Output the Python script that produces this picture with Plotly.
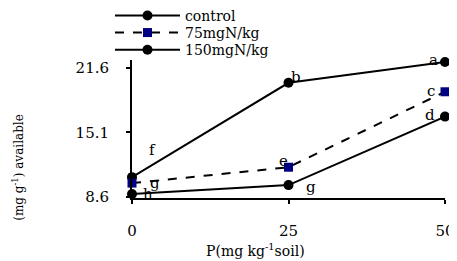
import plotly.graph_objects as go

p_levels = [0, 25, 50]
series_names = ["control", "75mgN/kg", "150mgN/kg"]
control = [10.6, 20.1, 22.2]
n75 = [10.0, 11.6, 19.2]
n150 = [8.9, 9.8, 16.7]
letters_control = ["f", "b", "a"]
letters_n75 = ["g", "e", "c"]
letters_n150 = ["h", "g", "d"]
y_ticks = [8.6, 15.1, 21.6]
x_ticks = [0, 25, 50]

FONT = "DejaVu Serif"

fig = go.Figure()
fig.add_trace(go.Scatter(x=p_levels, y=control, name=series_names[0], mode="lines+markers",
                         line=dict(color="black", width=2), legend="legend",
                         marker=dict(symbol="circle", size=10, color="black"), cliponaxis=False))
fig.add_trace(go.Scatter(x=p_levels, y=n75, name=series_names[1], mode="lines+markers",
                         line=dict(color="black", width=2, dash="dash"), legend="legend2",
                         marker=dict(symbol="square", size=9, color="#000080"), cliponaxis=False))
fig.add_trace(go.Scatter(x=p_levels, y=n150, name=series_names[2], mode="lines+markers",
                         line=dict(color="black", width=2), legend="legend3",
                         marker=dict(symbol="circle", size=10, color="black"), cliponaxis=False))

# letter annotations (offsets in px)
offs_control = [(20, 27), (7, 6), (-12, 2)]
offs_n75 = [(23, 0), (-5, 6), (-14, 1)]
offs_n150 = [(16, 0), (22, -2), (-15, 2)]
for vals, letters, offs in [(control, letters_control, offs_control),
                            (n75, letters_n75, offs_n75),
                            (n150, letters_n150, offs_n150)]:
    for x, y, t, (dx, dy) in zip(p_levels, vals, letters, offs):
        fig.add_annotation(x=x, y=y, text=t, showarrow=False, xshift=dx, yshift=dy,
                           font=dict(family=FONT, size=15, color="black"))

fig.add_annotation(xref="paper", yref="paper", x=0.396, y=-0.377,
                   xanchor="center", yanchor="middle",
                   text="P(mg kg<sup>-1</sup>soil)", showarrow=False,
                   font=dict(family=FONT, size=14, color="black"))
fig.add_annotation(xref="paper", yref="paper", x=-0.364, y=0.22, textangle=-90,
                   xanchor="center", yanchor="middle",
                   text="(mg g<sup>-1</sup>) available", showarrow=False,
                   font=dict(family=FONT, size=12, color="black"))

leg_common = dict(xref="paper", yref="paper", x=-0.0703, xanchor="left", yanchor="middle",
                  itemwidth=65, font=dict(family=FONT, size=14, color="black"),
                  bgcolor="rgba(0,0,0,0)", borderwidth=0)

fig.update_layout(
    width=449, height=253,
    margin=dict(l=124, r=12, t=52, b=63, autoexpand=False),
    paper_bgcolor="white", plot_bgcolor="white",
    font=dict(family=FONT, size=14, color="black"),
    showlegend=True,
    legend=dict(y=1.319, **leg_common),
    legend2=dict(y=1.196, **leg_common),
    legend3=dict(y=1.072, **leg_common),
    xaxis=dict(range=[0, 50], tickvals=x_ticks, ticktext=[str(v) for v in x_ticks],
               showgrid=False, zeroline=False, showline=True, linecolor="black", linewidth=2,
               ticks="outside", ticklen=4, tickwidth=2, tickcolor="black",
               ticklabelstandoff=14,
               tickfont=dict(family=FONT, size=15)),
    yaxis=dict(range=[8.5, 22.4], tickvals=y_ticks, ticktext=[str(v) for v in y_ticks],
               showgrid=False, zeroline=False, showline=True, linecolor="black", linewidth=2,
               ticks="outside", ticklen=4, tickwidth=2, tickcolor="black",
               ticklabelstandoff=14,
               tickfont=dict(family=FONT, size=15)),
)

fig.write_html("out.html")
